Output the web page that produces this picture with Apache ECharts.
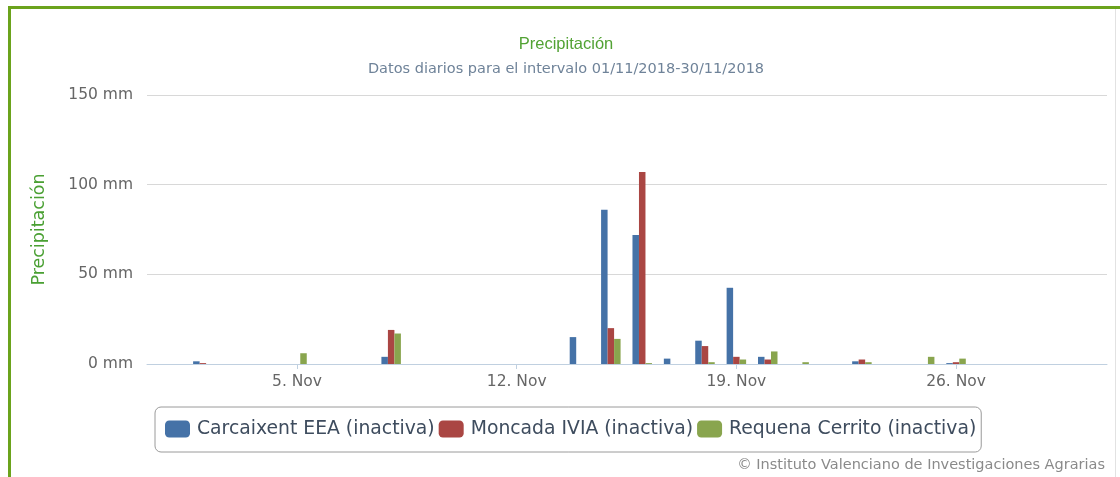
<!DOCTYPE html>
<html>
<head>
<meta charset="utf-8">
<script src="https://cdn.jsdelivr.net/npm/echarts@6/dist/echarts.min.js"></script>
<style>
  html, body { margin: 0; padding: 0; background: #fff; }
  #chart { width: 1120px; height: 477px; }
</style>
</head>
<body>
<div id="chart"></div>
<script>
// dias de noviembre 2018
var days = [1, 2, 3, 4, 5, 6, 7, 8, 9, 10, 11, 12, 13, 14, 15,
            16, 17, 18, 19, 20, 21, 22, 23, 24, 25, 26, 27, 28, 29, 30];
var seriesNames = ['Carcaixent EEA (inactiva)', 'Moncada IVIA (inactiva)', 'Requena Cerrito (inactiva)'];
var carcaixent = [0, 1.5, 0, 0, 0, 0, 0, 4, 0, 0, 0, 0, 0, 15, 86,
                  72, 3, 13, 42.5, 4, 0, 0, 1.5, 0, 0, 0.5, 0, 0, 0, 0];
var moncada    = [0, 0.5, 0, 0, 0, 0, 0, 19, 0, 0, 0, 0, 0, 0, 20,
                  107, 0, 10, 4, 2.5, 0, 0, 2.5, 0, 0, 1, 0, 0, 0, 0];
var requena    = [0, 0, 0, 0, 6, 0, 0, 17, 0, 0, 0, 0, 0, 0, 14,
                  0.5, 0, 1, 2.5, 7, 1, 0, 1, 0, 4, 3, 0, 0, 0, 0];
var tickDays = [5, 12, 19, 26];
var yTicks = [0, 50, 100, 150];

var colors = ['#4572A7', '#AA4643', '#89A54E'];

// [dia, mm] para el eje de valores
function pairs(vals) {
    return vals.map(function (v, i) { return [days[i], v]; });
}

var myChart = echarts.init(document.getElementById('chart'));

var option = {
    backgroundColor: '#fff',
    color: colors,
    animation: false,
    title: {
        text: 'Precipitación',
        subtext: 'Datos diarios para el intervalo 01/11/2018-30/11/2018',
        left: 561,
        textAlign: 'center',
        top: 29,
        itemGap: 6,
        textStyle: {
            fontFamily: 'Liberation Sans',
            fontSize: 16.5,
            fontWeight: 'normal',
            color: '#52a234',
            lineHeight: 20
        },
        subtextStyle: {
            fontFamily: 'DejaVu Sans',
            fontSize: 14.5,
            color: '#6f8399',
            lineHeight: 18
        }
    },
    legend: {
        left: 155,
        top: 407,
        padding: [11, 5, 12, 10],
        itemGap: 4,
        itemWidth: 25,
        itemHeight: 17,
        borderColor: '#9a9a9a',
        borderWidth: 1,
        borderRadius: 6,
        icon: 'roundRect',
        textStyle: {
            fontFamily: 'DejaVu Sans',
            fontSize: 18.8,
            color: '#3e4c5e',
            lineHeight: 22,
            padding: [0, 0, 0, 2]
        },
        data: seriesNames
    },
    grid: {
        left: 147,
        right: 13,
        top: 95,
        bottom: 113
    },
    xAxis: {
        type: 'value',
        min: 0.22,
        max: 30.81,
        splitLine: { show: false },
        axisLine: { show: true, onZero: false, lineStyle: { color: '#C0D0E0', width: 1 } },
        axisTick: {
            show: true,
            length: 5,
            customValues: tickDays,
            lineStyle: { color: '#C0D0E0' }
        },
        axisLabel: {
            customValues: tickDays,
            margin: 10,
            fontFamily: 'DejaVu Sans',
            fontSize: 15.5,
            color: '#666',
            formatter: function (v) { return v + '. Nov'; }
        }
    },
    yAxis: {
        type: 'value',
        min: yTicks[0],
        max: yTicks[yTicks.length - 1],
        interval: 50,
        name: 'Precipitación',
        nameLocation: 'middle',
        nameGap: 99,
        nameTextStyle: {
            fontFamily: 'DejaVu Sans',
            fontSize: 17.5,
            color: '#4aa033'
        },
        axisLine: { show: false },
        axisTick: { show: false },
        splitLine: { lineStyle: { color: '#d8d8d8', width: 1 } },
        axisLabel: {
            margin: 14,
            fontFamily: 'DejaVu Sans',
            fontSize: 15.5,
            color: '#666',
            formatter: '{value} mm'
        }
    },
    series: [
        { name: seriesNames[0], type: 'bar', barWidth: 6.5, barGap: '0%', data: pairs(carcaixent) },
        { name: seriesNames[1], type: 'bar', barWidth: 6.5, barGap: '0%', data: pairs(moncada) },
        { name: seriesNames[2], type: 'bar', barWidth: 6.5, barGap: '0%', data: pairs(requena) }
    ],
    graphic: [
        { type: 'rect', shape: { x: 8, y: 6, width: 3, height: 471 }, style: { fill: '#6ba31c' } },
        { type: 'rect', shape: { x: 8, y: 6, width: 1112, height: 3 }, style: { fill: '#6ba31c' } },
        { type: 'rect', shape: { x: 1115, y: 9, width: 1, height: 468 }, style: { fill: '#e2e2e2' } },
        {
            type: 'text',
            right: 15,
            top: 458,
            style: {
                text: '© Instituto Valenciano de Investigaciones Agrarias',
                fontFamily: 'DejaVu Sans',
                fontSize: 14.5,
                fill: '#8a8a8a'
            }
        }
    ]
};

myChart.setOption(option, true);
</script>
</body>
</html>
